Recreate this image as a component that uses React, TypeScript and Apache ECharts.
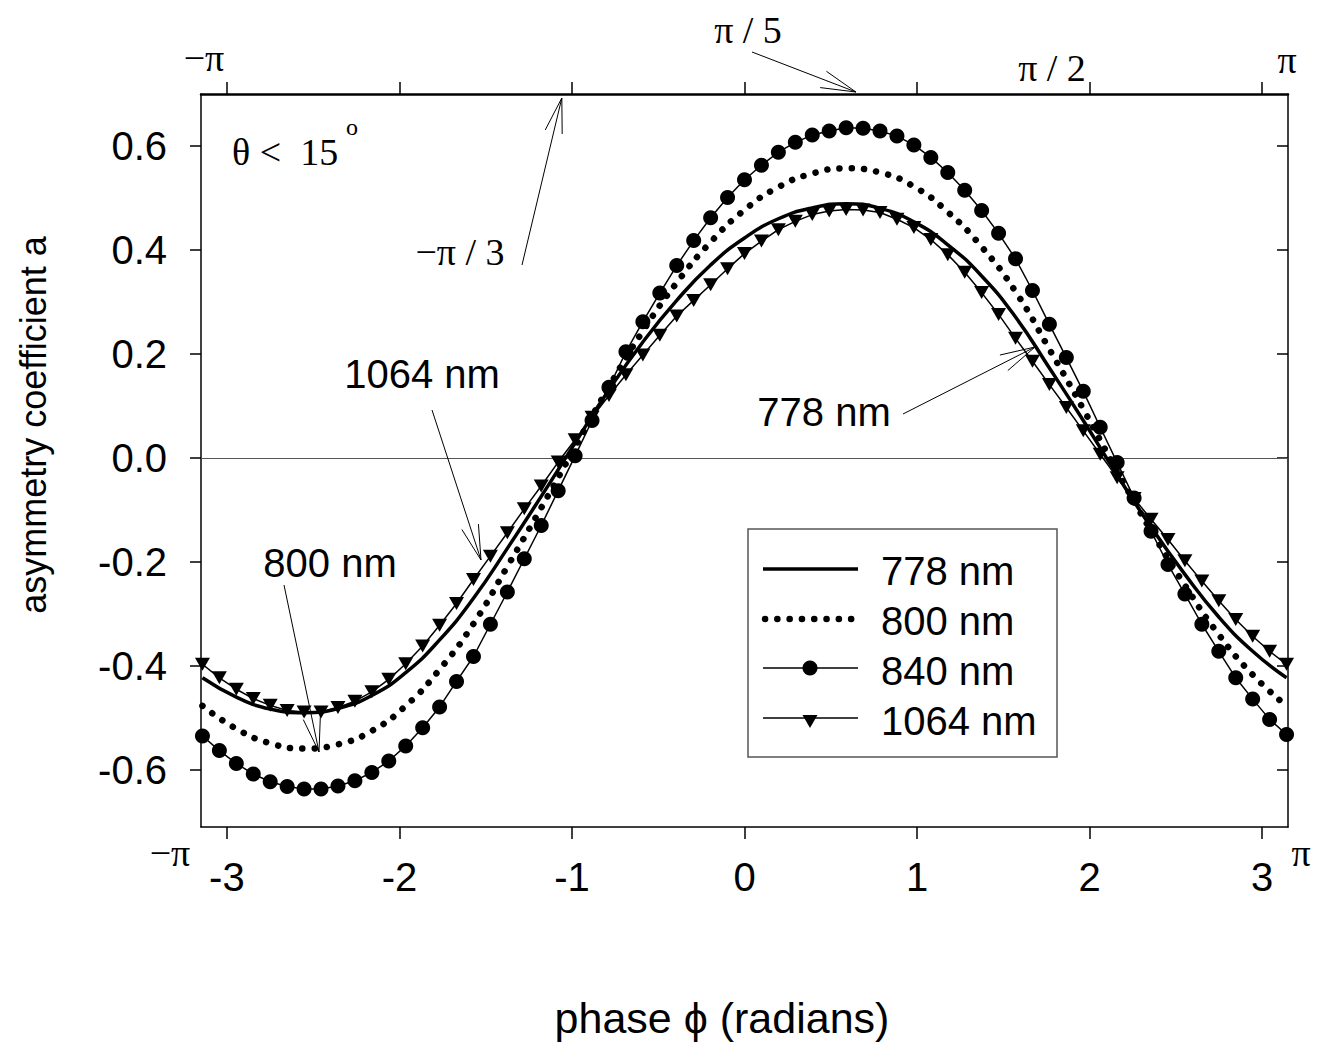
import React, { useEffect, useRef } from "react";
import * as echarts from "echarts";

// Phase grid (radians), -π … π in steps of π/32
const phase = [
  -3.1416, -3.0434, -2.9452, -2.8471, -2.7489, -2.6507, -2.5525, -2.4544,
  -2.3562, -2.258, -2.1598, -2.0617, -1.9635, -1.8653, -1.7671, -1.669,
  -1.5708, -1.4726, -1.3744, -1.2763, -1.1781, -1.0799, -0.9817, -0.8836,
  -0.7854, -0.6872, -0.589, -0.4909, -0.3927, -0.2945, -0.1963, -0.0982, 0,
  0.0982, 0.1963, 0.2945, 0.3927, 0.4909, 0.589, 0.6872, 0.7854, 0.8836,
  0.9817, 1.0799, 1.1781, 1.2763, 1.3744, 1.4726, 1.5708, 1.669, 1.7671,
  1.8653, 1.9635, 2.0617, 2.1598, 2.258, 2.3562, 2.4544, 2.5525, 2.6507,
  2.7489, 2.8471, 2.9452, 3.0434, 3.1416,
];

// 840 nm, one value per phase point
const a840 = [
  -0.535, -0.563, -0.588, -0.608, -0.623, -0.632, -0.637, -0.637, -0.631,
  -0.621, -0.605, -0.583, -0.554, -0.519, -0.479, -0.43, -0.382, -0.32,
  -0.258, -0.194, -0.13, -0.063, 0.004, 0.072, 0.136, 0.204, 0.262, 0.317,
  0.37, 0.418, 0.462, 0.501, 0.535, 0.563, 0.588, 0.607, 0.621, 0.629, 0.635,
  0.634, 0.629, 0.619, 0.602, 0.578, 0.549, 0.515, 0.476, 0.432, 0.383, 0.322,
  0.257, 0.193, 0.128, 0.059, -0.009, -0.077, -0.141, -0.205, -0.262, -0.32,
  -0.372, -0.423, -0.464, -0.503, -0.532,
];

// 1064 nm, one value per phase point
const a1064 = [
  -0.397, -0.423, -0.445, -0.463, -0.476, -0.486, -0.489, -0.489, -0.48,
  -0.468, -0.45, -0.426, -0.396, -0.362, -0.322, -0.28, -0.234, -0.189,
  -0.144, -0.098, -0.054, -0.008, 0.035, 0.078, 0.12, 0.16, 0.198, 0.236,
  0.273, 0.303, 0.333, 0.364, 0.393, 0.417, 0.439, 0.455, 0.468, 0.475, 0.478,
  0.477, 0.472, 0.459, 0.443, 0.42, 0.391, 0.357, 0.318, 0.276, 0.23, 0.186,
  0.141, 0.097, 0.052, 0.007, -0.038, -0.078, -0.118, -0.157, -0.198, -0.237,
  -0.275, -0.311, -0.343, -0.372, -0.397,
];

// 778 nm and 800 nm, on every second phase point
const a778 = [
  -0.423, -0.46, -0.483, -0.49, -0.482, -0.457, -0.413, -0.35, -0.27, -0.174,
  -0.074, 0.029, 0.131, 0.223, 0.303, 0.371, 0.423, 0.46, 0.481, 0.489, 0.48,
  0.454, 0.41, 0.35, 0.271, 0.173, 0.072, -0.033, -0.133, -0.224, -0.306,
  -0.372, -0.423,
];
const a800 = [
  -0.477, -0.521, -0.549, -0.559, -0.551, -0.525, -0.477, -0.407, -0.319,
  -0.209, -0.096, 0.021, 0.137, 0.244, 0.337, 0.415, 0.477, 0.521, 0.547,
  0.557, 0.549, 0.522, 0.473, 0.406, 0.32, 0.209, 0.094, -0.026, -0.14,
  -0.245, -0.34, -0.417, -0.477,
];

const xTicks = [-3, -2, -1, 0, 1, 2, 3];
const yTicks = [-0.6, -0.4, -0.2, 0, 0.2, 0.4, 0.6];
const legendNames = ["778 nm", "800 nm", "840 nm", "1064 nm"];

const SANS = "Liberation Sans, Arial, Helvetica, sans-serif";
const SERIF = "Liberation Serif, Times New Roman, serif";
const INK = "#000";

// thin line with an open arrowhead at (x2, y2)
function arrow(x1: number, y1: number, x2: number, y2: number) {
  const head = 36;
  const spread = (14 * Math.PI) / 180;
  const a = Math.atan2(y1 - y2, x1 - x2);
  const p1 = [x2 + head * Math.cos(a + spread), y2 + head * Math.sin(a + spread)];
  const p2 = [x2 + head * Math.cos(a - spread), y2 + head * Math.sin(a - spread)];
  return [
    { type: "line", shape: { x1, y1, x2, y2 }, style: { stroke: INK, lineWidth: 1 }, z: 20 },
    {
      type: "polyline",
      shape: { points: [p1, [x2, y2], p2] },
      style: { stroke: INK, lineWidth: 1, fill: null },
      z: 20,
    },
  ];
}

function label(text: string, x: number, y: number, size: number, family: string, align = "center") {
  return {
    type: "text",
    x,
    y,
    z: 20,
    style: {
      text,
      fill: INK,
      font: `${size}px ${family}`,
      align,
      verticalAlign: "middle",
    },
  };
}

export default function App() {
  const ref = useRef<HTMLDivElement>(null);

  useEffect(() => {
    document.body.style.margin = "0";
    document.body.style.overflow = "hidden";
    const chart = echarts.init(ref.current!, null, { renderer: "svg" });

    const frameLine = { onZero: false, lineStyle: { color: INK, width: 1.5 } };
    const tickStyle = { color: INK, width: 1.5 };

    chart.setOption({
      animation: false,
      backgroundColor: "#fff",
      grid: { left: 201, top: 94, width: 1087, height: 733, containLabel: false },
      xAxis: [
        {
          type: "value",
          position: "bottom",
          min: -3.15,
          max: 3.15,
          axisLine: frameLine,
          axisTick: { customValues: xTicks, length: 12, inside: false, lineStyle: tickStyle },
          axisLabel: {
            customValues: xTicks,
            formatter: (v: number) => String(v),
            fontSize: 40,
            fontFamily: SANS,
            color: INK,
            margin: 30,
          },
          splitLine: { show: false },
        },
        {
          type: "value",
          position: "top",
          min: -3.15,
          max: 3.15,
          axisLine: { onZero: false, lineStyle: { color: INK, width: 2.5 } },
          axisTick: { customValues: xTicks, length: 12, inside: false, lineStyle: tickStyle },
          axisLabel: { show: false },
          splitLine: { show: false },
        },
      ],
      yAxis: [
        {
          type: "value",
          position: "left",
          min: -0.71,
          max: 0.7,
          axisLine: { show: true, ...frameLine },
          axisTick: { customValues: yTicks, length: 11, inside: false, lineStyle: tickStyle },
          axisLabel: {
            customValues: yTicks,
            formatter: (v: number) => (Math.abs(v) < 1e-9 ? "0.0" : v.toFixed(1)),
            fontSize: 40,
            fontFamily: SANS,
            color: INK,
            margin: 34,
          },
          splitLine: { show: false },
        },
        {
          type: "value",
          position: "right",
          min: -0.71,
          max: 0.7,
          axisLine: { show: true, ...frameLine },
          axisTick: { customValues: yTicks, length: 11, inside: true, lineStyle: tickStyle },
          axisLabel: { show: false },
          splitLine: { show: false },
        },
      ],
      series: [
        {
          name: legendNames[0],
          type: "line",
          data: a778.map((v, i) => [phase[2 * i], v]),
          smooth: true,
          showSymbol: false,
          lineStyle: { color: INK, width: 3.5 },
          z: 3,
          markLine: {
            silent: true,
            symbol: ["none", "none"],
            label: { show: false },
            lineStyle: { color: "#555", width: 1.2, type: "solid" },
            data: [{ yAxis: 0 }],
            z: 1,
          },
        },
        {
          name: legendNames[1],
          type: "line",
          data: a800.map((v, i) => [phase[2 * i], v]),
          smooth: true,
          showSymbol: false,
          lineStyle: { color: INK, width: 6.5, type: [0.1, 12.2], cap: "round" },
          z: 3,
        },
        {
          name: legendNames[2],
          type: "line",
          data: phase.map((p, i) => [p, a840[i]]),
          symbol: "circle",
          symbolSize: 15,
          showSymbol: true,
          itemStyle: { color: INK },
          lineStyle: { color: INK, width: 1.5 },
          z: 4,
        },
        {
          name: legendNames[3],
          type: "line",
          data: phase.map((p, i) => [p, a1064[i]]),
          symbol: "triangle",
          symbolRotate: 180,
          symbolSize: [15, 13],
          showSymbol: true,
          itemStyle: { color: INK },
          lineStyle: { color: INK, width: 1.5 },
          z: 4,
        },
      ],
    });

    // arrow tips that point at phases on the top axis
    const topY = 94;
    const xPi5 = chart.convertToPixel({ xAxisIndex: 0 }, Math.PI / 5) as number;
    const xMinusPi3 = chart.convertToPixel({ xAxisIndex: 0 }, -Math.PI / 3) as number;

    // legend box
    const lx = 748;
    const ly = 529;
    const rowY = [570, 620, 670, 720];
    const legendGraphics: any[] = [
      {
        type: "rect",
        shape: { x: lx, y: ly, width: 309, height: 228 },
        style: { fill: "#fff", stroke: "#555", lineWidth: 1.5 },
        z: 10,
      },
      {
        type: "line",
        shape: { x1: 763, y1: rowY[0] - 1, x2: 858, y2: rowY[0] - 1 },
        style: { stroke: INK, lineWidth: 3.5 },
        z: 11,
      },
      {
        type: "line",
        shape: { x1: 765, y1: rowY[1] - 1, x2: 852, y2: rowY[1] - 1 },
        style: { stroke: INK, lineWidth: 6.5, lineDash: [0.1, 12.2], lineCap: "round" },
        z: 11,
      },
      {
        type: "line",
        shape: { x1: 763, y1: rowY[2] - 2, x2: 858, y2: rowY[2] - 2 },
        style: { stroke: INK, lineWidth: 1.5 },
        z: 11,
      },
      { type: "circle", shape: { cx: 810, cy: rowY[2] - 2, r: 7.5 }, style: { fill: INK }, z: 11 },
      {
        type: "line",
        shape: { x1: 763, y1: rowY[3] - 2, x2: 858, y2: rowY[3] - 2 },
        style: { stroke: INK, lineWidth: 1.5 },
        z: 11,
      },
      {
        type: "polygon",
        shape: { points: [[802.5, rowY[3] - 5], [817.5, rowY[3] - 5], [810, rowY[3] + 8]] },
        style: { fill: INK },
        z: 11,
      },
      ...legendNames.map((n, i) => ({ ...label(n, 881, rowY[i] + 1, 40, SANS, "left"), z: 12 })),
    ];

    chart.setOption({
      graphic: [
        ...legendGraphics,
        // axis titles
        label("phase \u03d5 (radians)", 722, 1018, 43, SANS),
        {
          type: "text",
          x: 33,
          y: 425,
          rotation: Math.PI / 2,
          z: 20,
          style: {
            text: "asymmetry coefficient a",
            fill: INK,
            font: `36px ${SANS}`,
            align: "center",
            verticalAlign: "middle",
          },
        },
        // phase marks around the frame
        label("\u2212\u03c0", 204, 58, 38, SERIF),
        label("\u03c0 / 5", 748, 30, 38, SERIF),
        label("\u03c0 / 2", 1052, 68, 38, SERIF),
        label("\u03c0", 1287, 60, 38, SERIF),
        label("\u2212\u03c0", 170, 853, 38, SERIF),
        label("\u03c0", 1301, 853, 38, SERIF),
        label("\u2212\u03c0 / 3", 460, 252, 38, SERIF),
        // angle condition
        label("\u03b8 <  15", 232, 152, 38, SERIF, "left"),
        label("o", 352, 127, 24, SERIF),
        // wavelength call-outs
        label("1064 nm", 422, 374, 40, SANS),
        label("800 nm", 330, 563, 40, SANS),
        label("778 nm", 824, 412, 40, SANS),
        ...arrow(752, 52, xPi5 + 3, topY - 2),
        ...arrow(522, 265, xMinusPi3 - 2, topY + 4),
        ...arrow(432, 410, 481, 560),
        ...arrow(284, 585, 319, 752),
        ...arrow(903, 414, 1035, 347),
      ],
    });

    return () => chart.dispose();
  }, []);

  return <div ref={ref} style={{ width: 1318, height: 1047 }} />;
}
